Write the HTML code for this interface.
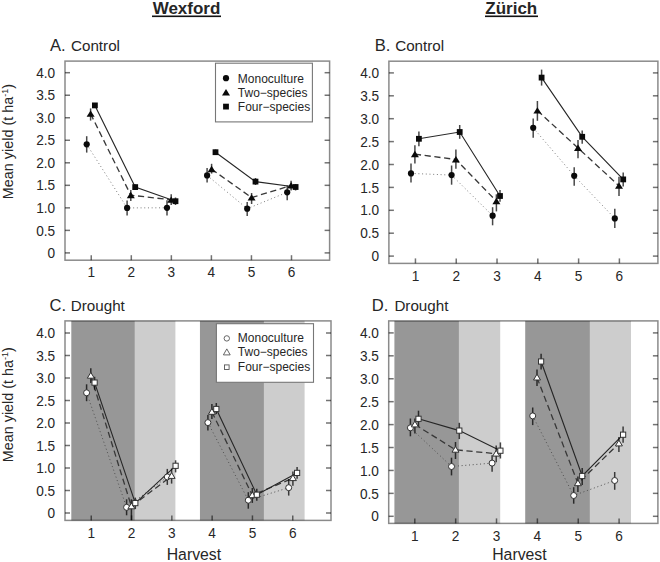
<!DOCTYPE html>
<html><head><meta charset="utf-8"><title>Mean yield</title>
<style>
html,body{margin:0;padding:0;background:#fff;}
body{width:660px;height:562px;overflow:hidden;font-family:"Liberation Sans", sans-serif;}
svg{display:block;}
text{font-family:"Liberation Sans", sans-serif;fill:#262626;}
</style></head><body>
<svg width="660" height="562" viewBox="0 0 660 562">
<text x="186.5" y="13.5" font-size="17" font-weight="bold" text-anchor="middle" fill="#111">Wexford</text>
<rect x="152" y="15.5" width="69" height="1.6" fill="#111"/>
<text x="511.3" y="13.5" font-size="17" font-weight="bold" text-anchor="middle" fill="#111">Zürich</text>
<rect x="485" y="15.5" width="53" height="1.6" fill="#111"/>
<g id="panelA">
<line x1="65" y1="252.9" x2="70" y2="252.9" stroke="#000" stroke-opacity="0.55" stroke-width="1.5"/>
<line x1="329.6" y1="252.9" x2="324.6" y2="252.9" stroke="#000" stroke-opacity="0.55" stroke-width="1.5"/>
<text transform="translate(55.2,258.05) scale(0.91,1)" font-size="15" text-anchor="end">0</text>
<line x1="65" y1="230.38" x2="70" y2="230.38" stroke="#000" stroke-opacity="0.55" stroke-width="1.5"/>
<line x1="329.6" y1="230.38" x2="324.6" y2="230.38" stroke="#000" stroke-opacity="0.55" stroke-width="1.5"/>
<text transform="translate(55.2,235.53) scale(0.91,1)" font-size="15" text-anchor="end">0.5</text>
<line x1="65" y1="207.85" x2="70" y2="207.85" stroke="#000" stroke-opacity="0.55" stroke-width="1.5"/>
<line x1="329.6" y1="207.85" x2="324.6" y2="207.85" stroke="#000" stroke-opacity="0.55" stroke-width="1.5"/>
<text transform="translate(55.2,213) scale(0.91,1)" font-size="15" text-anchor="end">1.0</text>
<line x1="65" y1="185.33" x2="70" y2="185.33" stroke="#000" stroke-opacity="0.55" stroke-width="1.5"/>
<line x1="329.6" y1="185.33" x2="324.6" y2="185.33" stroke="#000" stroke-opacity="0.55" stroke-width="1.5"/>
<text transform="translate(55.2,190.48) scale(0.91,1)" font-size="15" text-anchor="end">1.5</text>
<line x1="65" y1="162.8" x2="70" y2="162.8" stroke="#000" stroke-opacity="0.55" stroke-width="1.5"/>
<line x1="329.6" y1="162.8" x2="324.6" y2="162.8" stroke="#000" stroke-opacity="0.55" stroke-width="1.5"/>
<text transform="translate(55.2,167.95) scale(0.91,1)" font-size="15" text-anchor="end">2.0</text>
<line x1="65" y1="140.28" x2="70" y2="140.28" stroke="#000" stroke-opacity="0.55" stroke-width="1.5"/>
<line x1="329.6" y1="140.28" x2="324.6" y2="140.28" stroke="#000" stroke-opacity="0.55" stroke-width="1.5"/>
<text transform="translate(55.2,145.43) scale(0.91,1)" font-size="15" text-anchor="end">2.5</text>
<line x1="65" y1="117.75" x2="70" y2="117.75" stroke="#000" stroke-opacity="0.55" stroke-width="1.5"/>
<line x1="329.6" y1="117.75" x2="324.6" y2="117.75" stroke="#000" stroke-opacity="0.55" stroke-width="1.5"/>
<text transform="translate(55.2,122.9) scale(0.91,1)" font-size="15" text-anchor="end">3.0</text>
<line x1="65" y1="95.23" x2="70" y2="95.23" stroke="#000" stroke-opacity="0.55" stroke-width="1.5"/>
<line x1="329.6" y1="95.23" x2="324.6" y2="95.23" stroke="#000" stroke-opacity="0.55" stroke-width="1.5"/>
<text transform="translate(55.2,100.38) scale(0.91,1)" font-size="15" text-anchor="end">3.5</text>
<line x1="65" y1="72.7" x2="70" y2="72.7" stroke="#000" stroke-opacity="0.55" stroke-width="1.5"/>
<line x1="329.6" y1="72.7" x2="324.6" y2="72.7" stroke="#000" stroke-opacity="0.55" stroke-width="1.5"/>
<text transform="translate(55.2,77.85) scale(0.91,1)" font-size="15" text-anchor="end">4.0</text>
<line x1="91.25" y1="260.2" x2="91.25" y2="255.2" stroke="#000" stroke-opacity="0.55" stroke-width="1.5"/>
<text transform="translate(91.25,277.4) scale(0.91,1)" font-size="15" text-anchor="middle">1</text>
<line x1="131.3" y1="260.2" x2="131.3" y2="255.2" stroke="#000" stroke-opacity="0.55" stroke-width="1.5"/>
<text transform="translate(131.3,277.4) scale(0.91,1)" font-size="15" text-anchor="middle">2</text>
<line x1="171.35" y1="260.2" x2="171.35" y2="255.2" stroke="#000" stroke-opacity="0.55" stroke-width="1.5"/>
<text transform="translate(171.35,277.4) scale(0.91,1)" font-size="15" text-anchor="middle">3</text>
<line x1="211.4" y1="260.2" x2="211.4" y2="255.2" stroke="#000" stroke-opacity="0.55" stroke-width="1.5"/>
<text transform="translate(211.4,277.4) scale(0.91,1)" font-size="15" text-anchor="middle">4</text>
<line x1="251.45" y1="260.2" x2="251.45" y2="255.2" stroke="#000" stroke-opacity="0.55" stroke-width="1.5"/>
<text transform="translate(251.45,277.4) scale(0.91,1)" font-size="15" text-anchor="middle">5</text>
<line x1="291.5" y1="260.2" x2="291.5" y2="255.2" stroke="#000" stroke-opacity="0.55" stroke-width="1.5"/>
<text transform="translate(291.5,277.4) scale(0.91,1)" font-size="15" text-anchor="middle">6</text>
<rect x="65" y="61.1" width="264.6" height="199.1" fill="none" stroke="#000" stroke-opacity="0.46" stroke-width="1.5"/>
<polyline points="86.7,144.3 127.1,207.9 167,207.8" fill="none" stroke-dasharray="1 2.7" stroke="#7c7c7c" stroke-width="1.0"/>
<polyline points="207.1,175.4 247.2,208.7 287.2,192.3" fill="none" stroke-dasharray="1 2.7" stroke="#7c7c7c" stroke-width="1.0"/>
<polyline points="90.6,113.8 130.8,195.2 171.2,199.8" fill="none" stroke-dasharray="6.2 3.6" stroke="#383838" stroke-width="1.3"/>
<polyline points="211.6,169.2 251.6,197.6 291.1,185.5" fill="none" stroke-dasharray="6.2 3.6" stroke="#383838" stroke-width="1.3"/>
<polyline points="94.9,105.4 135.2,187.1 175.5,201.2" fill="none" stroke="#262626" stroke-width="1.12"/>
<polyline points="215.5,152.2 255.5,181.6 295.6,187" fill="none" stroke="#262626" stroke-width="1.12"/>
<line x1="86.7" y1="136.2" x2="86.7" y2="152.6" stroke="#000" stroke-opacity="0.72" stroke-width="1.5"/>
<line x1="127.1" y1="200.5" x2="127.1" y2="215.5" stroke="#000" stroke-opacity="0.72" stroke-width="1.5"/>
<line x1="167" y1="200.3" x2="167" y2="215.5" stroke="#000" stroke-opacity="0.72" stroke-width="1.5"/>
<line x1="207.1" y1="168" x2="207.1" y2="182.5" stroke="#000" stroke-opacity="0.72" stroke-width="1.5"/>
<line x1="247.2" y1="202" x2="247.2" y2="216" stroke="#000" stroke-opacity="0.72" stroke-width="1.5"/>
<line x1="287.2" y1="185.5" x2="287.2" y2="200.3" stroke="#000" stroke-opacity="0.72" stroke-width="1.5"/>
<line x1="90.6" y1="108.4" x2="90.6" y2="120.6" stroke="#000" stroke-opacity="0.72" stroke-width="1.5"/>
<line x1="130.8" y1="190" x2="130.8" y2="201" stroke="#000" stroke-opacity="0.72" stroke-width="1.5"/>
<line x1="171.2" y1="194.2" x2="171.2" y2="205" stroke="#000" stroke-opacity="0.72" stroke-width="1.5"/>
<line x1="211.6" y1="163.8" x2="211.6" y2="173.6" stroke="#000" stroke-opacity="0.72" stroke-width="1.5"/>
<line x1="251.6" y1="193" x2="251.6" y2="204" stroke="#000" stroke-opacity="0.72" stroke-width="1.5"/>
<line x1="291.1" y1="180.7" x2="291.1" y2="190.5" stroke="#000" stroke-opacity="0.72" stroke-width="1.5"/>
<line x1="94.9" y1="103" x2="94.9" y2="108" stroke="#000" stroke-opacity="0.72" stroke-width="1.5"/>
<line x1="135.2" y1="184.5" x2="135.2" y2="190" stroke="#000" stroke-opacity="0.72" stroke-width="1.5"/>
<line x1="175.5" y1="197.5" x2="175.5" y2="205" stroke="#000" stroke-opacity="0.72" stroke-width="1.5"/>
<line x1="215.5" y1="149.5" x2="215.5" y2="155" stroke="#000" stroke-opacity="0.72" stroke-width="1.5"/>
<line x1="255.5" y1="178" x2="255.5" y2="185" stroke="#000" stroke-opacity="0.72" stroke-width="1.5"/>
<line x1="295.6" y1="184" x2="295.6" y2="190.5" stroke="#000" stroke-opacity="0.72" stroke-width="1.5"/>
<circle cx="86.7" cy="144.3" r="3.1" fill="#0a0a0a"/>
<circle cx="127.1" cy="207.9" r="3.1" fill="#0a0a0a"/>
<circle cx="167" cy="207.8" r="3.1" fill="#0a0a0a"/>
<circle cx="207.1" cy="175.4" r="3.1" fill="#0a0a0a"/>
<circle cx="247.2" cy="208.7" r="3.1" fill="#0a0a0a"/>
<circle cx="287.2" cy="192.3" r="3.1" fill="#0a0a0a"/>
<polygon points="90.6,110.4 94.6,116.8 86.6,116.8" fill="#0a0a0a"/>
<polygon points="130.8,191.8 134.8,198.2 126.8,198.2" fill="#0a0a0a"/>
<polygon points="171.2,196.4 175.2,202.8 167.2,202.8" fill="#0a0a0a"/>
<polygon points="211.6,165.8 215.6,172.2 207.6,172.2" fill="#0a0a0a"/>
<polygon points="251.6,194.2 255.6,200.6 247.6,200.6" fill="#0a0a0a"/>
<polygon points="291.1,182.1 295.1,188.5 287.1,188.5" fill="#0a0a0a"/>
<rect x="92" y="102.5" width="5.8" height="5.8" fill="#0a0a0a"/>
<rect x="132.3" y="184.2" width="5.8" height="5.8" fill="#0a0a0a"/>
<rect x="172.6" y="198.3" width="5.8" height="5.8" fill="#0a0a0a"/>
<rect x="212.6" y="149.3" width="5.8" height="5.8" fill="#0a0a0a"/>
<rect x="252.6" y="178.7" width="5.8" height="5.8" fill="#0a0a0a"/>
<rect x="292.7" y="184.1" width="5.8" height="5.8" fill="#0a0a0a"/>
<text x="50" y="50.9" font-size="16.6">A.</text>
<text x="71" y="50.9" font-size="15.2">Control</text>
</g>
<g id="panelB">
<line x1="388.9" y1="256.1" x2="393.9" y2="256.1" stroke="#000" stroke-opacity="0.55" stroke-width="1.5"/>
<line x1="657.9" y1="256.1" x2="652.9" y2="256.1" stroke="#000" stroke-opacity="0.55" stroke-width="1.5"/>
<text transform="translate(379.1,261.25) scale(0.91,1)" font-size="15" text-anchor="end">0</text>
<line x1="388.9" y1="233.2" x2="393.9" y2="233.2" stroke="#000" stroke-opacity="0.55" stroke-width="1.5"/>
<line x1="657.9" y1="233.2" x2="652.9" y2="233.2" stroke="#000" stroke-opacity="0.55" stroke-width="1.5"/>
<text transform="translate(379.1,238.35) scale(0.91,1)" font-size="15" text-anchor="end">0.5</text>
<line x1="388.9" y1="210.3" x2="393.9" y2="210.3" stroke="#000" stroke-opacity="0.55" stroke-width="1.5"/>
<line x1="657.9" y1="210.3" x2="652.9" y2="210.3" stroke="#000" stroke-opacity="0.55" stroke-width="1.5"/>
<text transform="translate(379.1,215.45) scale(0.91,1)" font-size="15" text-anchor="end">1.0</text>
<line x1="388.9" y1="187.4" x2="393.9" y2="187.4" stroke="#000" stroke-opacity="0.55" stroke-width="1.5"/>
<line x1="657.9" y1="187.4" x2="652.9" y2="187.4" stroke="#000" stroke-opacity="0.55" stroke-width="1.5"/>
<text transform="translate(379.1,192.55) scale(0.91,1)" font-size="15" text-anchor="end">1.5</text>
<line x1="388.9" y1="164.5" x2="393.9" y2="164.5" stroke="#000" stroke-opacity="0.55" stroke-width="1.5"/>
<line x1="657.9" y1="164.5" x2="652.9" y2="164.5" stroke="#000" stroke-opacity="0.55" stroke-width="1.5"/>
<text transform="translate(379.1,169.65) scale(0.91,1)" font-size="15" text-anchor="end">2.0</text>
<line x1="388.9" y1="141.6" x2="393.9" y2="141.6" stroke="#000" stroke-opacity="0.55" stroke-width="1.5"/>
<line x1="657.9" y1="141.6" x2="652.9" y2="141.6" stroke="#000" stroke-opacity="0.55" stroke-width="1.5"/>
<text transform="translate(379.1,146.75) scale(0.91,1)" font-size="15" text-anchor="end">2.5</text>
<line x1="388.9" y1="118.7" x2="393.9" y2="118.7" stroke="#000" stroke-opacity="0.55" stroke-width="1.5"/>
<line x1="657.9" y1="118.7" x2="652.9" y2="118.7" stroke="#000" stroke-opacity="0.55" stroke-width="1.5"/>
<text transform="translate(379.1,123.85) scale(0.91,1)" font-size="15" text-anchor="end">3.0</text>
<line x1="388.9" y1="95.8" x2="393.9" y2="95.8" stroke="#000" stroke-opacity="0.55" stroke-width="1.5"/>
<line x1="657.9" y1="95.8" x2="652.9" y2="95.8" stroke="#000" stroke-opacity="0.55" stroke-width="1.5"/>
<text transform="translate(379.1,100.95) scale(0.91,1)" font-size="15" text-anchor="end">3.5</text>
<line x1="388.9" y1="72.9" x2="393.9" y2="72.9" stroke="#000" stroke-opacity="0.55" stroke-width="1.5"/>
<line x1="657.9" y1="72.9" x2="652.9" y2="72.9" stroke="#000" stroke-opacity="0.55" stroke-width="1.5"/>
<text transform="translate(379.1,78.05) scale(0.91,1)" font-size="15" text-anchor="end">4.0</text>
<line x1="415.45" y1="263.4" x2="415.45" y2="258.4" stroke="#000" stroke-opacity="0.55" stroke-width="1.5"/>
<text transform="translate(415.45,280.6) scale(0.91,1)" font-size="15" text-anchor="middle">1</text>
<line x1="456.24" y1="263.4" x2="456.24" y2="258.4" stroke="#000" stroke-opacity="0.55" stroke-width="1.5"/>
<text transform="translate(456.24,280.6) scale(0.91,1)" font-size="15" text-anchor="middle">2</text>
<line x1="497.03" y1="263.4" x2="497.03" y2="258.4" stroke="#000" stroke-opacity="0.55" stroke-width="1.5"/>
<text transform="translate(497.03,280.6) scale(0.91,1)" font-size="15" text-anchor="middle">3</text>
<line x1="537.82" y1="263.4" x2="537.82" y2="258.4" stroke="#000" stroke-opacity="0.55" stroke-width="1.5"/>
<text transform="translate(537.82,280.6) scale(0.91,1)" font-size="15" text-anchor="middle">4</text>
<line x1="578.61" y1="263.4" x2="578.61" y2="258.4" stroke="#000" stroke-opacity="0.55" stroke-width="1.5"/>
<text transform="translate(578.61,280.6) scale(0.91,1)" font-size="15" text-anchor="middle">5</text>
<line x1="619.4" y1="263.4" x2="619.4" y2="258.4" stroke="#000" stroke-opacity="0.55" stroke-width="1.5"/>
<text transform="translate(619.4,280.6) scale(0.91,1)" font-size="15" text-anchor="middle">6</text>
<rect x="388.9" y="61.2" width="269" height="202.2" fill="none" stroke="#000" stroke-opacity="0.46" stroke-width="1.5"/>
<polyline points="411,173.4 451.6,175.1 492.6,215.7" fill="none" stroke-dasharray="1 2.7" stroke="#7c7c7c" stroke-width="1.0"/>
<polyline points="533.2,127.8 574.2,175.8 614.8,218.4" fill="none" stroke-dasharray="1 2.7" stroke="#7c7c7c" stroke-width="1.0"/>
<polyline points="414.9,154.2 455.9,159.5 496.4,201.2" fill="none" stroke-dasharray="6.2 3.6" stroke="#383838" stroke-width="1.3"/>
<polyline points="537.4,110.6 578,148 619,185.8" fill="none" stroke-dasharray="6.2 3.6" stroke="#383838" stroke-width="1.3"/>
<polyline points="418.9,138.8 459.7,132 500,196" fill="none" stroke="#262626" stroke-width="1.12"/>
<polyline points="541.6,77.6 582.2,136.8 623.2,179.4" fill="none" stroke="#262626" stroke-width="1.12"/>
<line x1="411" y1="163.4" x2="411" y2="182.6" stroke="#000" stroke-opacity="0.72" stroke-width="1.5"/>
<line x1="451.6" y1="165.5" x2="451.6" y2="184.7" stroke="#000" stroke-opacity="0.72" stroke-width="1.5"/>
<line x1="492.6" y1="207.2" x2="492.6" y2="225.3" stroke="#000" stroke-opacity="0.72" stroke-width="1.5"/>
<line x1="533.2" y1="118.6" x2="533.2" y2="137.8" stroke="#000" stroke-opacity="0.72" stroke-width="1.5"/>
<line x1="574.2" y1="167.2" x2="574.2" y2="185.8" stroke="#000" stroke-opacity="0.72" stroke-width="1.5"/>
<line x1="614.8" y1="208.8" x2="614.8" y2="228" stroke="#000" stroke-opacity="0.72" stroke-width="1.5"/>
<line x1="414.9" y1="145.2" x2="414.9" y2="163.4" stroke="#000" stroke-opacity="0.72" stroke-width="1.5"/>
<line x1="455.9" y1="149.5" x2="455.9" y2="168.7" stroke="#000" stroke-opacity="0.72" stroke-width="1.5"/>
<line x1="496.4" y1="194.3" x2="496.4" y2="211.4" stroke="#000" stroke-opacity="0.72" stroke-width="1.5"/>
<line x1="537.4" y1="101" x2="537.4" y2="120.8" stroke="#000" stroke-opacity="0.72" stroke-width="1.5"/>
<line x1="578" y1="140" x2="578" y2="158.2" stroke="#000" stroke-opacity="0.72" stroke-width="1.5"/>
<line x1="619" y1="176.8" x2="619" y2="196" stroke="#000" stroke-opacity="0.72" stroke-width="1.5"/>
<line x1="418.9" y1="131.4" x2="418.9" y2="146.3" stroke="#000" stroke-opacity="0.72" stroke-width="1.5"/>
<line x1="459.7" y1="125" x2="459.7" y2="138.8" stroke="#000" stroke-opacity="0.72" stroke-width="1.5"/>
<line x1="500" y1="190" x2="500" y2="201.8" stroke="#000" stroke-opacity="0.72" stroke-width="1.5"/>
<line x1="541.6" y1="69.6" x2="541.6" y2="85.6" stroke="#000" stroke-opacity="0.72" stroke-width="1.5"/>
<line x1="582.2" y1="130.4" x2="582.2" y2="143.8" stroke="#000" stroke-opacity="0.72" stroke-width="1.5"/>
<line x1="623.2" y1="172.6" x2="623.2" y2="186.4" stroke="#000" stroke-opacity="0.72" stroke-width="1.5"/>
<circle cx="411" cy="173.4" r="3.1" fill="#0a0a0a"/>
<circle cx="451.6" cy="175.1" r="3.1" fill="#0a0a0a"/>
<circle cx="492.6" cy="215.7" r="3.1" fill="#0a0a0a"/>
<circle cx="533.2" cy="127.8" r="3.1" fill="#0a0a0a"/>
<circle cx="574.2" cy="175.8" r="3.1" fill="#0a0a0a"/>
<circle cx="614.8" cy="218.4" r="3.1" fill="#0a0a0a"/>
<polygon points="414.9,150.8 418.9,157.2 410.9,157.2" fill="#0a0a0a"/>
<polygon points="455.9,156.1 459.9,162.5 451.9,162.5" fill="#0a0a0a"/>
<polygon points="496.4,197.8 500.4,204.2 492.4,204.2" fill="#0a0a0a"/>
<polygon points="537.4,107.2 541.4,113.6 533.4,113.6" fill="#0a0a0a"/>
<polygon points="578,144.6 582,151 574,151" fill="#0a0a0a"/>
<polygon points="619,182.4 623,188.8 615,188.8" fill="#0a0a0a"/>
<rect x="416" y="135.9" width="5.8" height="5.8" fill="#0a0a0a"/>
<rect x="456.8" y="129.1" width="5.8" height="5.8" fill="#0a0a0a"/>
<rect x="497.1" y="193.1" width="5.8" height="5.8" fill="#0a0a0a"/>
<rect x="538.7" y="74.7" width="5.8" height="5.8" fill="#0a0a0a"/>
<rect x="579.3" y="133.9" width="5.8" height="5.8" fill="#0a0a0a"/>
<rect x="620.3" y="176.5" width="5.8" height="5.8" fill="#0a0a0a"/>
<text x="374.8" y="50.9" font-size="16.6">B.</text>
<text x="395.2" y="50.9" font-size="15.2">Control</text>
</g>
<g id="panelC">
<line x1="65" y1="513" x2="70" y2="513" stroke="#000" stroke-opacity="0.55" stroke-width="1.5"/>
<line x1="331" y1="513" x2="326" y2="513" stroke="#000" stroke-opacity="0.55" stroke-width="1.5"/>
<text transform="translate(55.2,518.15) scale(0.91,1)" font-size="15" text-anchor="end">0</text>
<line x1="65" y1="490.5" x2="70" y2="490.5" stroke="#000" stroke-opacity="0.55" stroke-width="1.5"/>
<line x1="331" y1="490.5" x2="326" y2="490.5" stroke="#000" stroke-opacity="0.55" stroke-width="1.5"/>
<text transform="translate(55.2,495.65) scale(0.91,1)" font-size="15" text-anchor="end">0.5</text>
<line x1="65" y1="468" x2="70" y2="468" stroke="#000" stroke-opacity="0.55" stroke-width="1.5"/>
<line x1="331" y1="468" x2="326" y2="468" stroke="#000" stroke-opacity="0.55" stroke-width="1.5"/>
<text transform="translate(55.2,473.15) scale(0.91,1)" font-size="15" text-anchor="end">1.0</text>
<line x1="65" y1="445.5" x2="70" y2="445.5" stroke="#000" stroke-opacity="0.55" stroke-width="1.5"/>
<line x1="331" y1="445.5" x2="326" y2="445.5" stroke="#000" stroke-opacity="0.55" stroke-width="1.5"/>
<text transform="translate(55.2,450.65) scale(0.91,1)" font-size="15" text-anchor="end">1.5</text>
<line x1="65" y1="423" x2="70" y2="423" stroke="#000" stroke-opacity="0.55" stroke-width="1.5"/>
<line x1="331" y1="423" x2="326" y2="423" stroke="#000" stroke-opacity="0.55" stroke-width="1.5"/>
<text transform="translate(55.2,428.15) scale(0.91,1)" font-size="15" text-anchor="end">2.0</text>
<line x1="65" y1="400.5" x2="70" y2="400.5" stroke="#000" stroke-opacity="0.55" stroke-width="1.5"/>
<line x1="331" y1="400.5" x2="326" y2="400.5" stroke="#000" stroke-opacity="0.55" stroke-width="1.5"/>
<text transform="translate(55.2,405.65) scale(0.91,1)" font-size="15" text-anchor="end">2.5</text>
<line x1="65" y1="378" x2="70" y2="378" stroke="#000" stroke-opacity="0.55" stroke-width="1.5"/>
<line x1="331" y1="378" x2="326" y2="378" stroke="#000" stroke-opacity="0.55" stroke-width="1.5"/>
<text transform="translate(55.2,383.15) scale(0.91,1)" font-size="15" text-anchor="end">3.0</text>
<line x1="65" y1="355.5" x2="70" y2="355.5" stroke="#000" stroke-opacity="0.55" stroke-width="1.5"/>
<line x1="331" y1="355.5" x2="326" y2="355.5" stroke="#000" stroke-opacity="0.55" stroke-width="1.5"/>
<text transform="translate(55.2,360.65) scale(0.91,1)" font-size="15" text-anchor="end">3.5</text>
<line x1="65" y1="333" x2="70" y2="333" stroke="#000" stroke-opacity="0.55" stroke-width="1.5"/>
<line x1="331" y1="333" x2="326" y2="333" stroke="#000" stroke-opacity="0.55" stroke-width="1.5"/>
<text transform="translate(55.2,338.15) scale(0.91,1)" font-size="15" text-anchor="end">4.0</text>
<line x1="91.25" y1="520.4" x2="91.25" y2="515.4" stroke="#000" stroke-opacity="0.55" stroke-width="1.5"/>
<text transform="translate(91.25,537.6) scale(0.91,1)" font-size="15" text-anchor="middle">1</text>
<line x1="131.55" y1="520.4" x2="131.55" y2="515.4" stroke="#000" stroke-opacity="0.55" stroke-width="1.5"/>
<text transform="translate(131.55,537.6) scale(0.91,1)" font-size="15" text-anchor="middle">2</text>
<line x1="171.85" y1="520.4" x2="171.85" y2="515.4" stroke="#000" stroke-opacity="0.55" stroke-width="1.5"/>
<text transform="translate(171.85,537.6) scale(0.91,1)" font-size="15" text-anchor="middle">3</text>
<line x1="212.15" y1="520.4" x2="212.15" y2="515.4" stroke="#000" stroke-opacity="0.55" stroke-width="1.5"/>
<text transform="translate(212.15,537.6) scale(0.91,1)" font-size="15" text-anchor="middle">4</text>
<line x1="252.45" y1="520.4" x2="252.45" y2="515.4" stroke="#000" stroke-opacity="0.55" stroke-width="1.5"/>
<text transform="translate(252.45,537.6) scale(0.91,1)" font-size="15" text-anchor="middle">5</text>
<line x1="292.75" y1="520.4" x2="292.75" y2="515.4" stroke="#000" stroke-opacity="0.55" stroke-width="1.5"/>
<text transform="translate(292.75,537.6) scale(0.91,1)" font-size="15" text-anchor="middle">6</text>
<rect x="65" y="320.9" width="266" height="199.5" fill="none" stroke="#000" stroke-opacity="0.46" stroke-width="1.5"/>
<rect x="71.3" y="320.9" width="63.45" height="199.5" fill="#000" fill-opacity="0.408"/>
<rect x="134.75" y="320.9" width="40.65" height="199.5" fill="#000" fill-opacity="0.196"/>
<rect x="199.95" y="320.9" width="63.95" height="199.5" fill="#000" fill-opacity="0.408"/>
<rect x="263.9" y="320.9" width="40.7" height="199.5" fill="#000" fill-opacity="0.196"/>
<polyline points="86.6,392.8 126.6,507.3 167.3,476.9" fill="none" stroke-dasharray="1 2.7" stroke="#505050" stroke-width="1.0"/>
<polyline points="207.9,422.6 248.3,500.2 288.7,487.7" fill="none" stroke-dasharray="1 2.7" stroke="#505050" stroke-width="1.0"/>
<polyline points="90.8,375.8 131.4,506.4 171.6,476" fill="none" stroke-dasharray="6.2 3.6" stroke="#383838" stroke-width="1.3"/>
<polyline points="211.9,411.9 252.3,495.3 292.9,478.2" fill="none" stroke-dasharray="6.2 3.6" stroke="#383838" stroke-width="1.3"/>
<polyline points="94.6,382.6 135.3,503.1 175.6,465.8" fill="none" stroke="#262626" stroke-width="1.12"/>
<polyline points="216.3,409 256.8,494.7 297.1,472.9" fill="none" stroke="#262626" stroke-width="1.12"/>
<line x1="86.6" y1="384.3" x2="86.6" y2="401.2" stroke="#000" stroke-opacity="0.72" stroke-width="1.5"/>
<line x1="126.6" y1="499.3" x2="126.6" y2="515.3" stroke="#000" stroke-opacity="0.72" stroke-width="1.5"/>
<line x1="167.3" y1="468.9" x2="167.3" y2="484.9" stroke="#000" stroke-opacity="0.72" stroke-width="1.5"/>
<line x1="207.9" y1="415" x2="207.9" y2="430.6" stroke="#000" stroke-opacity="0.72" stroke-width="1.5"/>
<line x1="248.3" y1="492.2" x2="248.3" y2="508.7" stroke="#000" stroke-opacity="0.72" stroke-width="1.5"/>
<line x1="288.7" y1="479.1" x2="288.7" y2="495.6" stroke="#000" stroke-opacity="0.72" stroke-width="1.5"/>
<line x1="90.8" y1="368.3" x2="90.8" y2="383" stroke="#000" stroke-opacity="0.72" stroke-width="1.5"/>
<line x1="131.4" y1="499.3" x2="131.4" y2="520" stroke="#000" stroke-opacity="0.72" stroke-width="1.5"/>
<line x1="171.6" y1="468.5" x2="171.6" y2="483.6" stroke="#000" stroke-opacity="0.72" stroke-width="1.5"/>
<line x1="211.9" y1="403.9" x2="211.9" y2="419" stroke="#000" stroke-opacity="0.72" stroke-width="1.5"/>
<line x1="252.3" y1="488" x2="252.3" y2="502.9" stroke="#000" stroke-opacity="0.72" stroke-width="1.5"/>
<line x1="292.9" y1="471.6" x2="292.9" y2="485.8" stroke="#000" stroke-opacity="0.72" stroke-width="1.5"/>
<line x1="94.6" y1="376.8" x2="94.6" y2="389.7" stroke="#000" stroke-opacity="0.72" stroke-width="1.5"/>
<line x1="135.3" y1="497.6" x2="135.3" y2="509.1" stroke="#000" stroke-opacity="0.72" stroke-width="1.5"/>
<line x1="175.6" y1="460.3" x2="175.6" y2="472.4" stroke="#000" stroke-opacity="0.72" stroke-width="1.5"/>
<line x1="216.3" y1="403" x2="216.3" y2="414.1" stroke="#000" stroke-opacity="0.72" stroke-width="1.5"/>
<line x1="256.8" y1="488.7" x2="256.8" y2="500.7" stroke="#000" stroke-opacity="0.72" stroke-width="1.5"/>
<line x1="297.1" y1="467.1" x2="297.1" y2="478.7" stroke="#000" stroke-opacity="0.72" stroke-width="1.5"/>
<circle cx="86.6" cy="392.8" r="3.0" fill="#ffffff" stroke="#333333" stroke-width="1.0"/>
<circle cx="126.6" cy="507.3" r="3.0" fill="#ffffff" stroke="#333333" stroke-width="1.0"/>
<circle cx="167.3" cy="476.9" r="3.0" fill="#ffffff" stroke="#333333" stroke-width="1.0"/>
<circle cx="207.9" cy="422.6" r="3.0" fill="#ffffff" stroke="#333333" stroke-width="1.0"/>
<circle cx="248.3" cy="500.2" r="3.0" fill="#ffffff" stroke="#333333" stroke-width="1.0"/>
<circle cx="288.7" cy="487.7" r="3.0" fill="#ffffff" stroke="#333333" stroke-width="1.0"/>
<polygon points="90.8,372.4 94.3,378.2 87.3,378.2" fill="#ffffff" stroke="#333333" stroke-width="1.0"/>
<polygon points="131.4,503 134.9,508.8 127.9,508.8" fill="#ffffff" stroke="#333333" stroke-width="1.0"/>
<polygon points="171.6,472.6 175.1,478.4 168.1,478.4" fill="#ffffff" stroke="#333333" stroke-width="1.0"/>
<polygon points="211.9,408.5 215.4,414.3 208.4,414.3" fill="#ffffff" stroke="#333333" stroke-width="1.0"/>
<polygon points="252.3,491.9 255.8,497.7 248.8,497.7" fill="#ffffff" stroke="#333333" stroke-width="1.0"/>
<polygon points="292.9,474.8 296.4,480.6 289.4,480.6" fill="#ffffff" stroke="#333333" stroke-width="1.0"/>
<rect x="92" y="380" width="5.2" height="5.2" fill="#ffffff" stroke="#333333" stroke-width="1.0"/>
<rect x="132.7" y="500.5" width="5.2" height="5.2" fill="#ffffff" stroke="#333333" stroke-width="1.0"/>
<rect x="173" y="463.2" width="5.2" height="5.2" fill="#ffffff" stroke="#333333" stroke-width="1.0"/>
<rect x="213.7" y="406.4" width="5.2" height="5.2" fill="#ffffff" stroke="#333333" stroke-width="1.0"/>
<rect x="254.2" y="492.1" width="5.2" height="5.2" fill="#ffffff" stroke="#333333" stroke-width="1.0"/>
<rect x="294.5" y="470.3" width="5.2" height="5.2" fill="#ffffff" stroke="#333333" stroke-width="1.0"/>
<text x="49.6" y="311.3" font-size="16.6">C.</text>
<text x="70.8" y="311.3" font-size="15.2">Drought</text>
</g>
<g id="panelD">
<line x1="388.7" y1="516.3" x2="393.7" y2="516.3" stroke="#000" stroke-opacity="0.55" stroke-width="1.5"/>
<line x1="657.9" y1="516.3" x2="652.9" y2="516.3" stroke="#000" stroke-opacity="0.55" stroke-width="1.5"/>
<text transform="translate(378.9,521.45) scale(0.91,1)" font-size="15" text-anchor="end">0</text>
<line x1="388.7" y1="493.37" x2="393.7" y2="493.37" stroke="#000" stroke-opacity="0.55" stroke-width="1.5"/>
<line x1="657.9" y1="493.37" x2="652.9" y2="493.37" stroke="#000" stroke-opacity="0.55" stroke-width="1.5"/>
<text transform="translate(378.9,498.52) scale(0.91,1)" font-size="15" text-anchor="end">0.5</text>
<line x1="388.7" y1="470.45" x2="393.7" y2="470.45" stroke="#000" stroke-opacity="0.55" stroke-width="1.5"/>
<line x1="657.9" y1="470.45" x2="652.9" y2="470.45" stroke="#000" stroke-opacity="0.55" stroke-width="1.5"/>
<text transform="translate(378.9,475.6) scale(0.91,1)" font-size="15" text-anchor="end">1.0</text>
<line x1="388.7" y1="447.52" x2="393.7" y2="447.52" stroke="#000" stroke-opacity="0.55" stroke-width="1.5"/>
<line x1="657.9" y1="447.52" x2="652.9" y2="447.52" stroke="#000" stroke-opacity="0.55" stroke-width="1.5"/>
<text transform="translate(378.9,452.67) scale(0.91,1)" font-size="15" text-anchor="end">1.5</text>
<line x1="388.7" y1="424.6" x2="393.7" y2="424.6" stroke="#000" stroke-opacity="0.55" stroke-width="1.5"/>
<line x1="657.9" y1="424.6" x2="652.9" y2="424.6" stroke="#000" stroke-opacity="0.55" stroke-width="1.5"/>
<text transform="translate(378.9,429.75) scale(0.91,1)" font-size="15" text-anchor="end">2.0</text>
<line x1="388.7" y1="401.67" x2="393.7" y2="401.67" stroke="#000" stroke-opacity="0.55" stroke-width="1.5"/>
<line x1="657.9" y1="401.67" x2="652.9" y2="401.67" stroke="#000" stroke-opacity="0.55" stroke-width="1.5"/>
<text transform="translate(378.9,406.82) scale(0.91,1)" font-size="15" text-anchor="end">2.5</text>
<line x1="388.7" y1="378.75" x2="393.7" y2="378.75" stroke="#000" stroke-opacity="0.55" stroke-width="1.5"/>
<line x1="657.9" y1="378.75" x2="652.9" y2="378.75" stroke="#000" stroke-opacity="0.55" stroke-width="1.5"/>
<text transform="translate(378.9,383.9) scale(0.91,1)" font-size="15" text-anchor="end">3.0</text>
<line x1="388.7" y1="355.82" x2="393.7" y2="355.82" stroke="#000" stroke-opacity="0.55" stroke-width="1.5"/>
<line x1="657.9" y1="355.82" x2="652.9" y2="355.82" stroke="#000" stroke-opacity="0.55" stroke-width="1.5"/>
<text transform="translate(378.9,360.97) scale(0.91,1)" font-size="15" text-anchor="end">3.5</text>
<line x1="388.7" y1="332.9" x2="393.7" y2="332.9" stroke="#000" stroke-opacity="0.55" stroke-width="1.5"/>
<line x1="657.9" y1="332.9" x2="652.9" y2="332.9" stroke="#000" stroke-opacity="0.55" stroke-width="1.5"/>
<text transform="translate(378.9,338.05) scale(0.91,1)" font-size="15" text-anchor="end">4.0</text>
<line x1="414.8" y1="523.4" x2="414.8" y2="518.4" stroke="#000" stroke-opacity="0.55" stroke-width="1.5"/>
<text transform="translate(414.8,540.6) scale(0.91,1)" font-size="15" text-anchor="middle">1</text>
<line x1="455.66" y1="523.4" x2="455.66" y2="518.4" stroke="#000" stroke-opacity="0.55" stroke-width="1.5"/>
<text transform="translate(455.66,540.6) scale(0.91,1)" font-size="15" text-anchor="middle">2</text>
<line x1="496.52" y1="523.4" x2="496.52" y2="518.4" stroke="#000" stroke-opacity="0.55" stroke-width="1.5"/>
<text transform="translate(496.52,540.6) scale(0.91,1)" font-size="15" text-anchor="middle">3</text>
<line x1="537.38" y1="523.4" x2="537.38" y2="518.4" stroke="#000" stroke-opacity="0.55" stroke-width="1.5"/>
<text transform="translate(537.38,540.6) scale(0.91,1)" font-size="15" text-anchor="middle">4</text>
<line x1="578.24" y1="523.4" x2="578.24" y2="518.4" stroke="#000" stroke-opacity="0.55" stroke-width="1.5"/>
<text transform="translate(578.24,540.6) scale(0.91,1)" font-size="15" text-anchor="middle">5</text>
<line x1="619.1" y1="523.4" x2="619.1" y2="518.4" stroke="#000" stroke-opacity="0.55" stroke-width="1.5"/>
<text transform="translate(619.1,540.6) scale(0.91,1)" font-size="15" text-anchor="middle">6</text>
<rect x="388.7" y="320.9" width="269.2" height="202.5" fill="none" stroke="#000" stroke-opacity="0.46" stroke-width="1.5"/>
<rect x="394.4" y="320.9" width="64.5" height="202.5" fill="#000" fill-opacity="0.408"/>
<rect x="458.9" y="320.9" width="41.3" height="202.5" fill="#000" fill-opacity="0.196"/>
<rect x="525.2" y="320.9" width="64.65" height="202.5" fill="#000" fill-opacity="0.408"/>
<rect x="589.85" y="320.9" width="41.15" height="202.5" fill="#000" fill-opacity="0.196"/>
<polyline points="410.4,427.8 451.5,466.5 492.1,463.1" fill="none" stroke-dasharray="1 2.7" stroke="#505050" stroke-width="1.0"/>
<polyline points="532.7,415.9 573.7,495.5 614.7,480.5" fill="none" stroke-dasharray="1 2.7" stroke="#505050" stroke-width="1.0"/>
<polyline points="414.9,424.5 455.5,449.8 496.2,453.7" fill="none" stroke-dasharray="6.2 3.6" stroke="#383838" stroke-width="1.3"/>
<polyline points="537,377.6 577.9,483.3 618.9,443.5" fill="none" stroke-dasharray="6.2 3.6" stroke="#383838" stroke-width="1.3"/>
<polyline points="418.5,418.8 459.3,430.6 500.4,450.7" fill="none" stroke="#262626" stroke-width="1.12"/>
<polyline points="541.1,361.5 582.2,476 623.1,434.7" fill="none" stroke="#262626" stroke-width="1.12"/>
<line x1="410.4" y1="418.5" x2="410.4" y2="436.3" stroke="#000" stroke-opacity="0.72" stroke-width="1.5"/>
<line x1="451.5" y1="457.7" x2="451.5" y2="475.4" stroke="#000" stroke-opacity="0.72" stroke-width="1.5"/>
<line x1="492.1" y1="455.3" x2="492.1" y2="471.8" stroke="#000" stroke-opacity="0.72" stroke-width="1.5"/>
<line x1="532.7" y1="407.5" x2="532.7" y2="425.1" stroke="#000" stroke-opacity="0.72" stroke-width="1.5"/>
<line x1="573.7" y1="487.2" x2="573.7" y2="503.7" stroke="#000" stroke-opacity="0.72" stroke-width="1.5"/>
<line x1="614.7" y1="472" x2="614.7" y2="489.8" stroke="#000" stroke-opacity="0.72" stroke-width="1.5"/>
<line x1="414.9" y1="418.5" x2="414.9" y2="433.5" stroke="#000" stroke-opacity="0.72" stroke-width="1.5"/>
<line x1="455.5" y1="442" x2="455.5" y2="459" stroke="#000" stroke-opacity="0.72" stroke-width="1.5"/>
<line x1="496.2" y1="445.6" x2="496.2" y2="462.2" stroke="#000" stroke-opacity="0.72" stroke-width="1.5"/>
<line x1="537" y1="369.4" x2="537" y2="386" stroke="#000" stroke-opacity="0.72" stroke-width="1.5"/>
<line x1="577.9" y1="476.5" x2="577.9" y2="492" stroke="#000" stroke-opacity="0.72" stroke-width="1.5"/>
<line x1="618.9" y1="437" x2="618.9" y2="452" stroke="#000" stroke-opacity="0.72" stroke-width="1.5"/>
<line x1="418.5" y1="410.7" x2="418.5" y2="427" stroke="#000" stroke-opacity="0.72" stroke-width="1.5"/>
<line x1="459.3" y1="422.8" x2="459.3" y2="439.1" stroke="#000" stroke-opacity="0.72" stroke-width="1.5"/>
<line x1="500.4" y1="442.4" x2="500.4" y2="458.5" stroke="#000" stroke-opacity="0.72" stroke-width="1.5"/>
<line x1="541.1" y1="353.7" x2="541.1" y2="369.4" stroke="#000" stroke-opacity="0.72" stroke-width="1.5"/>
<line x1="582.2" y1="468" x2="582.2" y2="485" stroke="#000" stroke-opacity="0.72" stroke-width="1.5"/>
<line x1="623.1" y1="426.4" x2="623.1" y2="442.8" stroke="#000" stroke-opacity="0.72" stroke-width="1.5"/>
<circle cx="410.4" cy="427.8" r="3.0" fill="#ffffff" stroke="#333333" stroke-width="1.0"/>
<circle cx="451.5" cy="466.5" r="3.0" fill="#ffffff" stroke="#333333" stroke-width="1.0"/>
<circle cx="492.1" cy="463.1" r="3.0" fill="#ffffff" stroke="#333333" stroke-width="1.0"/>
<circle cx="532.7" cy="415.9" r="3.0" fill="#ffffff" stroke="#333333" stroke-width="1.0"/>
<circle cx="573.7" cy="495.5" r="3.0" fill="#ffffff" stroke="#333333" stroke-width="1.0"/>
<circle cx="614.7" cy="480.5" r="3.0" fill="#ffffff" stroke="#333333" stroke-width="1.0"/>
<polygon points="414.9,421.1 418.4,426.9 411.4,426.9" fill="#ffffff" stroke="#333333" stroke-width="1.0"/>
<polygon points="455.5,446.4 459,452.2 452,452.2" fill="#ffffff" stroke="#333333" stroke-width="1.0"/>
<polygon points="496.2,450.3 499.7,456.1 492.7,456.1" fill="#ffffff" stroke="#333333" stroke-width="1.0"/>
<polygon points="537,374.2 540.5,380 533.5,380" fill="#ffffff" stroke="#333333" stroke-width="1.0"/>
<polygon points="577.9,479.9 581.4,485.7 574.4,485.7" fill="#ffffff" stroke="#333333" stroke-width="1.0"/>
<polygon points="618.9,440.1 622.4,445.9 615.4,445.9" fill="#ffffff" stroke="#333333" stroke-width="1.0"/>
<rect x="415.9" y="416.2" width="5.2" height="5.2" fill="#ffffff" stroke="#333333" stroke-width="1.0"/>
<rect x="456.7" y="428" width="5.2" height="5.2" fill="#ffffff" stroke="#333333" stroke-width="1.0"/>
<rect x="497.8" y="448.1" width="5.2" height="5.2" fill="#ffffff" stroke="#333333" stroke-width="1.0"/>
<rect x="538.5" y="358.9" width="5.2" height="5.2" fill="#ffffff" stroke="#333333" stroke-width="1.0"/>
<rect x="579.6" y="473.4" width="5.2" height="5.2" fill="#ffffff" stroke="#333333" stroke-width="1.0"/>
<rect x="620.5" y="432.1" width="5.2" height="5.2" fill="#ffffff" stroke="#333333" stroke-width="1.0"/>
<text x="371.8" y="311.3" font-size="16.6">D.</text>
<text x="394.4" y="311.3" font-size="15.2">Drought</text>
</g>
<rect x="215.5" y="63.2" width="96.89999999999998" height="58.7" fill="#fff" stroke="#777" stroke-width="1.1"/>
<circle cx="226" cy="78.2" r="3.1" fill="#0a0a0a"/>
<text x="237.8" y="82.5" font-size="12">Monoculture</text>
<polygon points="226,89 230,95.4 222,95.4" fill="#0a0a0a"/>
<text x="237.8" y="96.7" font-size="12">Two−species</text>
<rect x="223.1" y="103.7" width="5.8" height="5.8" fill="#0a0a0a"/>
<text x="237.8" y="110.9" font-size="12">Four−species</text>
<rect x="216.4" y="323.7" width="97.1" height="58.60000000000002" fill="#fff" stroke="#777" stroke-width="1.1"/>
<circle cx="226.8" cy="338.4" r="2.7" fill="#fff" stroke="#555" stroke-width="0.9"/>
<text x="237.8" y="342.2" font-size="12">Monoculture</text>
<polygon points="226.8,348.9 230.2,354.9 223.4,354.9" fill="#fff" stroke="#555" stroke-width="0.9"/>
<text x="237.8" y="356.4" font-size="12">Two−species</text>
<rect x="224.5" y="364.9" width="4.6" height="4.6" fill="#fff" stroke="#555" stroke-width="0.9"/>
<text x="237.8" y="370.6" font-size="12">Four−species</text>
<text transform="translate(12.9,141.6) rotate(-90)" font-size="14.4" text-anchor="middle">Mean yield (t ha<tspan font-size="9" dy="-5">-1</tspan><tspan dy="5">)</tspan></text>
<text transform="translate(12.9,404.7) rotate(-90)" font-size="14.4" text-anchor="middle">Mean yield (t ha<tspan font-size="9" dy="-5">-1</tspan><tspan dy="5">)</tspan></text>
<text transform="translate(193.9,560) scale(0.97,1)" font-size="16.3" text-anchor="middle">Harvest</text>
<text transform="translate(519.4,560.2) scale(0.97,1)" font-size="16.3" text-anchor="middle">Harvest</text>
</svg>
</body></html>
